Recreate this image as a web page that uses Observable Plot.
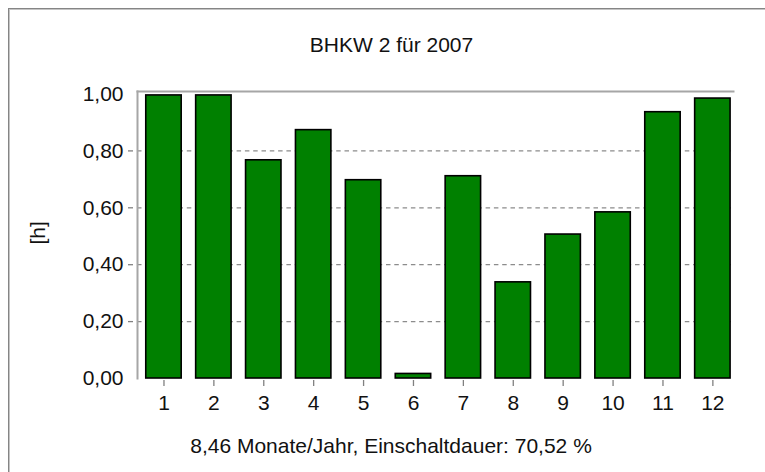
<!DOCTYPE html>
<html>
<head>
<meta charset="utf-8">
<script src="https://cdn.jsdelivr.net/npm/d3@7"></script>
<script src="https://cdn.jsdelivr.net/npm/@observablehq/plot@0.6"></script>
<style>
  html, body { margin: 0; padding: 0; background: #fff; }
  #wrap { position: relative; width: 765px; height: 472px; overflow: hidden; }
  #border { position: absolute; left: 8px; top: 8px; width: 800px; height: 500px;
            border-left: 1px solid #858585; border-top: 1px solid #858585;
            box-shadow: inset 1px 1px 0 #c4c4c4; pointer-events: none; }
  #chart { position: absolute; left: 0; top: 0; }
</style>
</head>
<body>
<div id="wrap"><div id="chart"></div><div id="border"></div></div>
<script>
const months = ["1","2","3","4","5","6","7","8","9","10","11","12"];
const hours  = [0.995, 0.995, 0.767, 0.873, 0.697, 0.016, 0.711, 0.338, 0.506, 0.584, 0.936, 0.984];
const yTicks = [0, 0.2, 0.4, 0.6, 0.8, 1.0];
const gridTicks = [0.2, 0.4, 0.6, 0.8];
const title = "BHKW 2 für 2007";
const caption = "8,46 Monate/Jahr, Einschaltdauer: 70,52 %";
const yLabel = "[h]";

const data = months.map((m, i) => ({month: m, value: hours[i]}));
const fmt = d => d3.format(".2f")(d).replace(".", ",");
const font = "'Liberation Sans', Arial, sans-serif";

const chart = Plot.plot({
  width: 765,
  height: 472,
  marginTop: 91,
  marginBottom: 94,
  marginLeft: 137,
  marginRight: 32,
  style: {fontFamily: font, fontSize: "21px", color: "#111", background: "transparent"},
  x: {domain: months, paddingInner: 0.29, paddingOuter: 0.117, align: 0.75, round: false, label: null},
  y: {domain: [0, 1.0088], label: null},
  marks: [
    Plot.ruleY(gridTicks, {stroke: "#8c8c8c", strokeWidth: 1.3, strokeDasharray: "4.5,3.8"}),
    Plot.frame({anchor: "top", stroke: "#a6a6a6", strokeWidth: 2}),
    Plot.frame({anchor: "left", stroke: "#a6a6a6", strokeWidth: 2}),
    Plot.barY(data, {x: "month", y: "value", fill: "#008000", stroke: "#000", strokeWidth: 1.6}),
    Plot.axisY({ticks: yTicks, tickFormat: fmt, tickSize: 0, tickPadding: 14, fontSize: 21, fill: "#111"}),
    Plot.axisY({ticks: gridTicks, tickFormat: () => "", tickSize: 5, dx: -4, stroke: "#808080", strokeWidth: 1.3}),
    Plot.axisX({tickSize: 6, dy: 2, tickPadding: 9, stroke: "#808080", strokeWidth: 1.3, fill: "#111", fontSize: 21}),
    Plot.text([yLabel], {frameAnchor: "left", dx: -99, dy: 9.5, rotate: -90, fontSize: 21, fill: "#111"}),
    Plot.text([title], {frameAnchor: "top", dx: -44, dy: -54.3, fontSize: 21, fill: "#111"}),
    Plot.text([caption], {frameAnchor: "bottom", dx: -44.5, dy: 74.5, fontSize: 21, fill: "#111"})
  ]
});
document.getElementById("chart").appendChild(chart);
</script>
</body>
</html>
